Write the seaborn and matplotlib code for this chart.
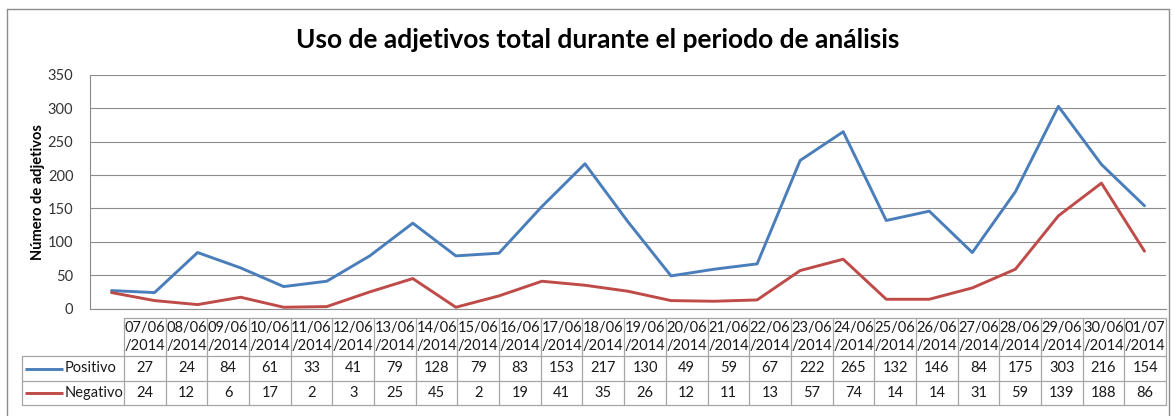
import matplotlib
matplotlib.use("Agg")
import matplotlib.pyplot as plt
import seaborn as sns
import pandas as pd
import numpy as np

fechas = ["07/06", "08/06", "09/06", "10/06", "11/06", "12/06", "13/06", "14/06", "15/06",
          "16/06", "17/06", "18/06", "19/06", "20/06", "21/06", "22/06", "23/06", "24/06",
          "25/06", "26/06", "27/06", "28/06", "29/06", "30/06", "01/07"]
anio = "/2014"
positivo = [27, 24, 84, 61, 33, 41, 79, 128, 79, 83, 153, 217, 130, 49, 59, 67, 222, 265,
            132, 146, 84, 175, 303, 216, 154]
negativo = [24, 12, 6, 17, 2, 3, 25, 45, 2, 19, 41, 35, 26, 12, 11, 13, 57, 74,
            14, 14, 31, 59, 139, 188, 86]
series = ["Positivo", "Negativo"]
colores = {"Positivo": "#4A7EBB", "Negativo": "#BE4B48"}
titulo = "Uso de adjetivos total durante el periodo de análisis"
ylabel = "Número de adjetivos"
yticks = [0, 50, 100, 150, 200, 250, 300, 350]

sns.set_theme(style="white")
plt.rcParams["font.family"] = ["Lato", "DejaVu Sans"]

W, H = 1173, 416
fig = plt.figure(figsize=(W / 100, H / 100), dpi=100)
fig.patch.set_facecolor("white")

# main plot axes (pixel layout)
L, R, T, B = 90, 1166, 75, 308.6
ax = fig.add_axes([L / W, (H - B) / H, (R - L) / W, (B - T) / H])

n = len(fechas)
df = pd.DataFrame({
    "x": list(range(n)) * 2,
    "valor": positivo + negativo,
    "serie": ["Positivo"] * n + ["Negativo"] * n,
})
sns.lineplot(data=df, x="x", y="valor", hue="serie", palette=colores, legend=False,
             linewidth=2.1, ax=ax, hue_order=series)
ax.set_xlim(-0.5, n - 0.5)
ax.set_ylim(0, 350)
ax.set_yticks(yticks)
ax.set_yticklabels([str(v) for v in yticks], fontsize=10.5, color="#333333")
ax.tick_params(axis="y", length=0, pad=12)
ax.set_xticks([])
ax.set_xlabel("")
ax.set_ylabel("")
ax.grid(axis="y", color="#8C8C8C", linewidth=0.8)
ax.set_axisbelow(True)
for s in ["top", "right"]:
    ax.spines[s].set_visible(False)
for s in ["left", "bottom"]:
    ax.spines[s].set_color("#8C8C8C")
    ax.spines[s].set_linewidth(0.8)

# overlay axes for frame, title, label and data table (pixel coordinates)
ov = fig.add_axes([0, 0, 1, 1], facecolor="none")
ov.set_xlim(0, W)
ov.set_ylim(H, 0)
ov.axis("off")

gc = "#8C8C8C"
# outer chart frame
ov.plot([7, 7], [9, H], color=gc, lw=1.0)
ov.plot([7, 1169], [9, 9], color=gc, lw=1.0)
ov.plot([1169, 1169], [9, H], color=gc, lw=1.0)

ov.text(598, 40, titulo, ha="center", va="center", fontsize=19, fontweight="bold", color="black")
ov.text(38, 192, ylabel, ha="center", va="center", rotation=90, fontsize=10.5,
        fontweight="bold", color="black")

# data table
t_left, c_left, t_right = 22, 124, 1166
y0, y1, y2, y3 = 318, 356, 381, 405
cw = (t_right - c_left) / n
tc = "#A6A6A6"
ov.plot([c_left, t_right], [y0, y0], color=tc, lw=0.9)
for yy in (y1, y2, y3):
    ov.plot([t_left, t_right], [yy, yy], color=tc, lw=0.9)
ov.plot([t_left, t_left], [y1, y3], color=tc, lw=0.9)
for i in range(n + 1):
    xx = c_left + i * cw
    ov.plot([xx, xx], [y0, y3], color=tc, lw=0.9)

tcol = "#1a1a1a"
fs = 10.5
for i, f in enumerate(fechas):
    cx = c_left + (i + 0.5) * cw
    ov.text(cx, (y0 + y1) / 2 - 9, f, ha="center", va="center", fontsize=fs, color=tcol)
    ov.text(cx, (y0 + y1) / 2 + 9, anio, ha="center", va="center", fontsize=fs, color=tcol)
    ov.text(cx, (y1 + y2) / 2, str(positivo[i]), ha="center", va="center", fontsize=fs, color=tcol)
    ov.text(cx, (y2 + y3) / 2, str(negativo[i]), ha="center", va="center", fontsize=fs, color=tcol)

for nombre, (ya, yb) in zip(series, [(y1, y2), (y2, y3)]):
    ym = (ya + yb) / 2
    ov.plot([25, 63], [ym, ym], color=colores[nombre], lw=2.1, solid_capstyle="butt")
    ov.text(65, ym, nombre, ha="left", va="center", fontsize=fs, color=tcol)

fig.savefig("out.png", dpi=100, facecolor="white")
